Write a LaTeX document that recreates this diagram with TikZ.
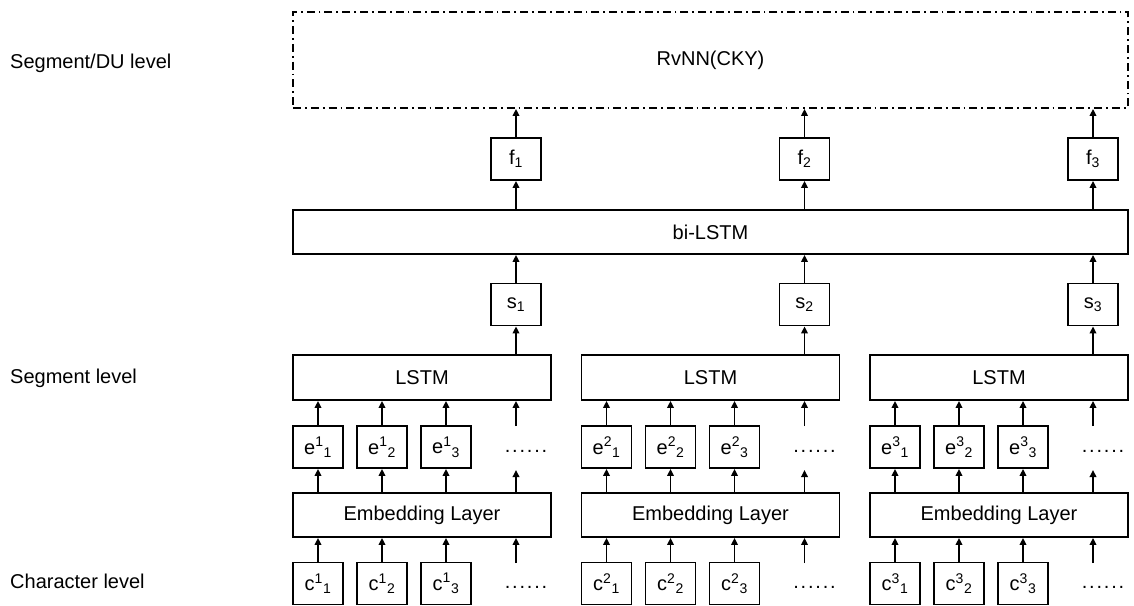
\documentclass[tikz,border=0pt]{standalone}
\usepackage{fontspec}
\setmainfont{Liberation Sans}
\usetikzlibrary{arrows.meta}
\newcommand\mydots{.\kern1.8pt.\kern1.8pt.\kern1.8pt.\kern1.8pt.\kern1.8pt.}
\begin{document}
\begin{tikzpicture}[x=1pt,y=-1pt,
  font=\fontsize{20}{24}\selectfont,
  box/.style={draw, line width=1.8pt, minimum width=50pt, minimum height=42pt, inner sep=0pt},
  wide/.style={draw, line width=1.8pt, minimum width=258pt, minimum height=45pt, inner sep=0pt},
  arr/.style={line width=1.8pt, -{Triangle[length=7pt,width=6.5pt]}},
  lbl/.style={anchor=base west, inner sep=0pt},
  dotsn/.style={anchor=base, inner sep=0pt}]
\useasboundingbox (0,0) rectangle (1134,605);
% left labels
\node[lbl] (l1) at (10,68) {Segment/DU level};
\node[lbl] (l2) at (10,383) {Segment level};
\node[lbl] (l3) at (10,588) {Character level};
% top
\node[draw, line width=1.8pt, dash pattern=on 8pt off 4pt on 1.8pt off 4pt,
      minimum width=835pt, minimum height=96pt, inner sep=0pt] (rvnn) at (710.5,60) {RvNN(CKY)};
\node[draw, line width=1.8pt, minimum width=835pt, minimum height=44pt, inner sep=0pt] (bi) at (710.5,232) {bi-LSTM};
\foreach \g/\xo in {1/293,2/581.5,3/870} {
  \node[wide] (lstm\g) at (\xo+129,377.5) {LSTM};
  \node[wide, minimum height=44pt] (emb\g) at (\xo+129,515) {Embedding Layer};
  \node[box] (s\g) at (\xo+223,304.5) {s\textsubscript{\g}};
  \node[box] (f\g) at (\xo+223,159) {f\textsubscript{\g}};
  \draw[arr] (lstm\g.north -| s\g) -- (s\g.south);
  \draw[arr] (s\g.north) -- (bi.south -| s\g);
  \draw[arr] (bi.north -| f\g) -- (f\g.south);
  \draw[arr] (f\g.north) -- (rvnn.south -| f\g);
  \foreach \i/\dx in {1/25,2/89,3/153} {
    \node[box] (e\g\i) at (\xo+\dx,447) {e\textsuperscript{\g}\textsubscript{\i}};
    \node[box] (c\g\i) at (\xo+\dx,583.5) {c\textsuperscript{\g}\textsubscript{\i}};
    \draw[arr] (e\g\i.north) -- (lstm\g.south -| e\g\i);
    \draw[arr] (emb\g.north -| e\g\i) -- (e\g\i.south);
    \draw[arr] (c\g\i.north) -- (emb\g.south -| c\g\i);
  }
  \coordinate (qa\g) at (\xo+223,426);
  \coordinate (qb\g) at (\xo+223,470);
  \coordinate (qc\g) at (\xo+223,563);
  \draw[arr] (qa\g) -- (lstm\g.south -| qa\g);
  \draw[arr] (emb\g.north -| qb\g) -- (qb\g);
  \draw[arr] (qc\g) -- (emb\g.south -| qc\g);
  \node[dotsn] (de\g) at (\xo+233,452) {\mydots};
  \node[dotsn] (dc\g) at (\xo+233,588) {\mydots};
}
\end{tikzpicture}
\end{document}
